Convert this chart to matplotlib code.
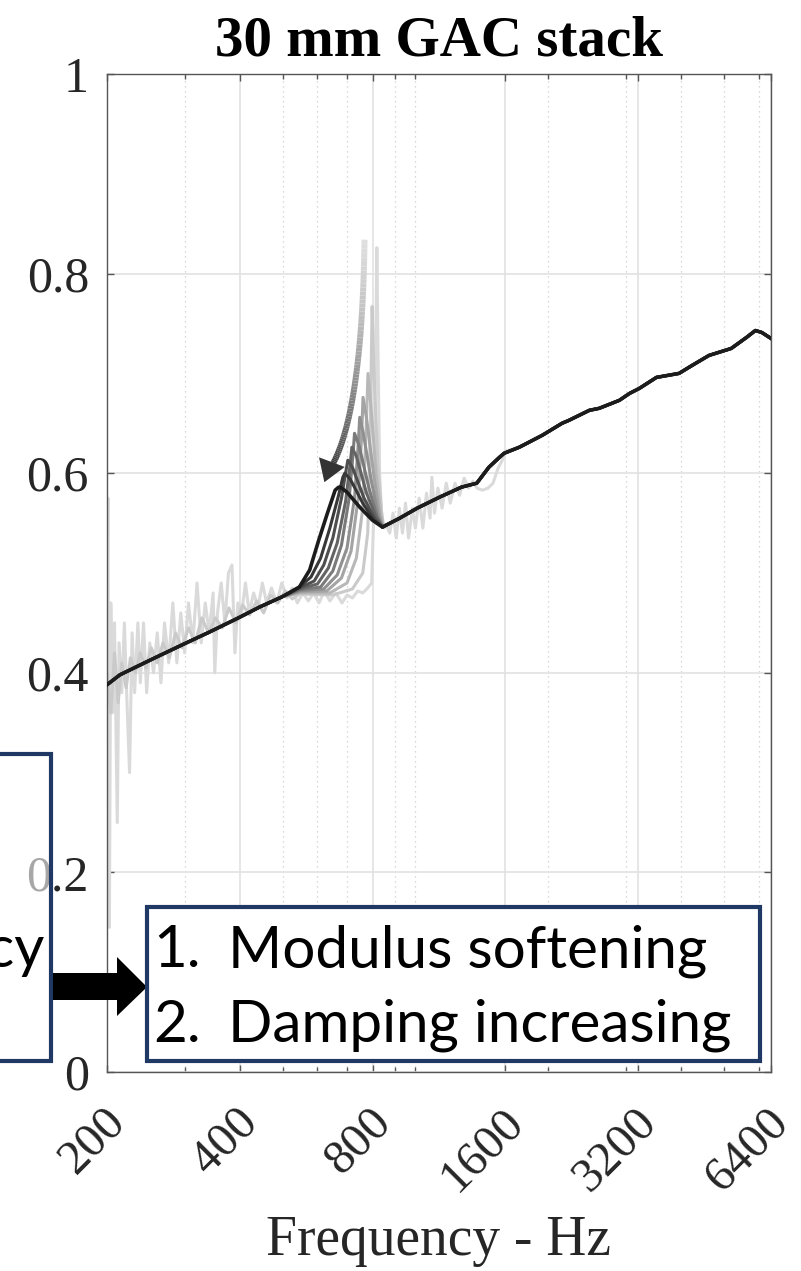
import numpy as np
import matplotlib.pyplot as plt
import matplotlib.transforms as mtransforms
from matplotlib.collections import LineCollection
from matplotlib.patches import Rectangle, Polygon
from matplotlib.ticker import FixedLocator, NullLocator, NullFormatter

plt.rcParams['font.family'] = ['Liberation Serif', 'DejaVu Serif']

W, H = 801, 1271

# darkest sweep below the resonance (Hz, value)
base_f = [200, 214, 254, 296, 342, 397, 444, 498]
base_v = [0.388, 0.398, 0.414, 0.428, 0.441, 0.455, 0.466, 0.476]

# common part above the resonance dip
post_f = [922, 1010, 1135, 1272, 1378, 1468, 1552, 1590, 1720, 1940, 2150, 2230, 2480,
          2610, 2900, 3060, 3220, 3520, 3960, 4240, 4630, 5200, 5630, 5900, 6100, 6400]
post_v = [0.555, 0.565, 0.576, 0.586, 0.590, 0.606, 0.616, 0.620, 0.626, 0.638, 0.650, 0.653, 0.663,
          0.665, 0.673, 0.680, 0.685, 0.696, 0.700, 0.708, 0.718, 0.725, 0.736, 0.743, 0.741, 0.735]

# resonance part of each sweep, light -> dark (sweep 0 is the noisy one below)
res_f = [
    None,
    [546, 650, 720, 760, 780, 790, 798, 806, 822, 838, 848],
    [546, 640, 700, 735, 760, 773, 781, 792, 815, 835, 846],
    [546, 630, 680, 715, 742, 755, 761, 775, 805, 830, 844],
    [546, 620, 665, 700, 728, 742, 748, 762, 795, 825, 842],
    [546, 610, 650, 680, 708, 722, 728, 745, 785, 820, 842],
    [546, 600, 635, 665, 695, 712, 718, 735, 775, 815, 842],
    [546, 590, 620, 650, 680, 696, 703, 720, 765, 810, 842],
    [546, 580, 610, 640, 670, 685, 692, 712, 760, 805, 842],
    [546, 576, 604, 632, 658, 670, 676, 700, 748, 799, 842],
]
res_v = [
    None,
    [0.479, 0.478, 0.484, 0.500, 0.540, 0.640, 0.767, 0.700, 0.610, 0.562, 0.546],
    [0.480, 0.480, 0.490, 0.515, 0.565, 0.640, 0.700, 0.670, 0.600, 0.560, 0.546],
    [0.481, 0.482, 0.495, 0.522, 0.575, 0.635, 0.676, 0.655, 0.598, 0.558, 0.546],
    [0.482, 0.484, 0.498, 0.525, 0.575, 0.628, 0.656, 0.640, 0.592, 0.557, 0.546],
    [0.483, 0.486, 0.502, 0.528, 0.575, 0.618, 0.640, 0.628, 0.585, 0.556, 0.546],
    [0.484, 0.489, 0.505, 0.530, 0.572, 0.610, 0.626, 0.617, 0.580, 0.556, 0.546],
    [0.485, 0.492, 0.508, 0.535, 0.575, 0.602, 0.613, 0.606, 0.575, 0.554, 0.546],
    [0.486, 0.496, 0.515, 0.545, 0.578, 0.596, 0.600, 0.594, 0.570, 0.553, 0.546],
    [0.486, 0.503, 0.533, 0.560, 0.583, 0.586, 0.586, 0.581, 0.566, 0.553, 0.546],
]

# first (lightest) sweep, noisy, 200-1600 Hz
noisy_f = [200, 201, 202.5, 204, 206, 208, 211, 213, 216, 219, 222, 225, 228, 231, 235, 238,
           242, 246, 250, 255, 260, 265, 270, 276, 282, 288, 294, 300, 306, 313, 320, 327,
           334, 341, 348, 351, 356, 363, 370, 377, 384, 390, 396, 404, 412, 420, 430, 440,
           450, 460, 472, 485, 498, 512, 526, 540, 556, 572, 588, 605, 622, 640, 660, 682,
           700, 720, 740, 760, 780, 796, 805, 812, 818, 823, 830, 840, 850, 860, 875, 890,
           905, 920, 935, 950, 965, 985, 1000, 1020, 1040, 1060, 1080, 1090, 1105, 1125, 1150,
           1175, 1200, 1230, 1260, 1290, 1320, 1350, 1380, 1420, 1460, 1500, 1540, 1570, 1600]
noisy_v = [0.44, 0.575, 0.145, 0.47, 0.36, 0.45, 0.25, 0.43, 0.38, 0.45, 0.37, 0.30, 0.44, 0.38, 0.45, 0.39,
           0.45, 0.38, 0.43, 0.40, 0.44, 0.39, 0.45, 0.41, 0.47, 0.41, 0.46, 0.42, 0.47, 0.43, 0.49, 0.43,
           0.47, 0.44, 0.48, 0.40, 0.46, 0.49, 0.45, 0.50, 0.508, 0.42, 0.47, 0.46, 0.49, 0.46, 0.48, 0.465,
           0.49, 0.47, 0.485, 0.47, 0.49, 0.475, 0.485, 0.47, 0.48, 0.472, 0.48, 0.47, 0.482, 0.472, 0.48, 0.47,
           0.478, 0.475, 0.482, 0.48, 0.485, 0.49, 0.56, 0.70, 0.826, 0.72, 0.60, 0.55, 0.545, 0.548, 0.54, 0.56,
           0.535, 0.565, 0.54, 0.57, 0.535, 0.565, 0.545, 0.575, 0.545, 0.58, 0.555, 0.596, 0.56, 0.585, 0.565,
           0.59, 0.57, 0.59, 0.578, 0.595, 0.585, 0.592, 0.585, 0.583, 0.585, 0.59, 0.605, 0.612, 0.622]

# second sweep, mildly noisy below the resonance
noisy2_f = [200, 204, 208, 212, 216, 221, 226, 232, 238, 245, 252, 260, 268, 277, 286, 296,
            306, 317, 328, 340, 352, 365, 378, 392, 406, 421, 437, 453, 470, 488, 507, 526]
noisy2_v = [0.40, 0.36, 0.42, 0.37, 0.41, 0.385, 0.415, 0.40, 0.42, 0.405, 0.425, 0.41, 0.43, 0.415, 0.44, 0.425,
            0.445, 0.43, 0.455, 0.44, 0.455, 0.445, 0.465, 0.45, 0.468, 0.458, 0.472, 0.46, 0.478, 0.47, 0.482, 0.474]

shades = ['#dadada', '#cacaca', '#b8b8b8', '#a4a4a4', '#909090', '#7a7a7a', '#646464', '#4e4e4e', '#383838', '#1c1c1c']

x_major = [200, 400, 800, 1600, 3200, 6400]
x_minor = [300, 500, 600, 700, 900, 1000, 2000, 3000, 4000, 5000, 6000]
y_ticks = [0, 0.2, 0.4, 0.6, 0.8, 1.0]
y_labels = ['0', '0.2', '0.4', '0.6', '0.8', '1']

txt_col = '#262626'
navy = '#1f3864'


def fx(px):
    return px / W


def fy(py):
    return 1 - py / H


fig = plt.figure(figsize=(W / 100, H / 100), dpi=100)
ax = fig.add_axes([fx(107), fy(1072), fx(771) - fx(107), fy(74) - fy(1072)])

for k in range(len(shades)):
    if k == 0:
        f = noisy_f + [p for p in post_f if p > 1600]
        v = noisy_v + [q for p, q in zip(post_f, post_v) if p > 1600]
    else:
        low_f = noisy2_f if k == 1 else base_f
        low_v = noisy2_v if k == 1 else base_v
        f = low_f + res_f[k] + post_f
        v = low_v + res_v[k] + post_v
    ax.plot(f, v, color=shades[k], lw=2.6 if k == len(shades) - 1 else 2.2,
            solid_joinstyle='round', zorder=2 + k * 0.1)

ax.set_xscale('log')
ax.set_xlim(200, 6400)
ax.set_ylim(0, 1)
ax.xaxis.set_major_locator(FixedLocator(x_major))
ax.xaxis.set_minor_locator(FixedLocator(x_minor))
ax.xaxis.set_minor_formatter(NullFormatter())
ax.yaxis.set_minor_locator(NullLocator())
ax.set_xticklabels([str(t) for t in x_major], rotation=45, ha='right', va='top',
                   rotation_mode='anchor', family='Liberation Serif', fontsize=35, color=txt_col)
ax.set_yticks(y_ticks)
ax.set_yticklabels(y_labels, fontsize=36, color=txt_col)
ax.tick_params(which='both', direction='in', top=True, right=True, color='#555555', width=1)
ax.tick_params(which='major', length=5)
ax.tick_params(which='minor', length=3.5)
ax.tick_params(axis='x', which='major', pad=20)
ax.tick_params(axis='y', pad=13)
for s in ax.spines.values():
    s.set_color('#555555')
    s.set_linewidth(1)

offset = mtransforms.ScaledTranslation(-0.04, 0, fig.dpi_scale_trans)
for lab in ax.get_xticklabels():
    lab.set_transform(lab.get_transform() + offset)

ax.grid(which='major', color='#e2e2e2', lw=1.2, ls='-')
ax.grid(which='minor', axis='x', color='#cccccc', lw=0.9, ls=(0, (1, 3)))
ax.set_axisbelow(True)

# gradient arrow showing peak shift
p0 = ax.transData.transform((767, 0.834))
p1 = ax.transData.transform((757, 0.653))
p2 = ax.transData.transform((636, 0.602))
t = np.linspace(0, 1, 80)[:, None]
pts = (1 - t) ** 2 * p0 + 2 * (1 - t) * t * p1 + t ** 2 * p2
segs = np.stack([pts[:-1], pts[1:]], axis=1)
cols = plt.cm.Greys(np.linspace(0.22, 0.85, len(segs)))
lc = LineCollection(segs, colors=cols, linewidths=4.3, capstyle='butt',
                    transform=mtransforms.IdentityTransform(), zorder=5)
ax.add_collection(lc)
ax.annotate('', xy=(622, 0.591), xytext=(638, 0.604),
            arrowprops=dict(arrowstyle='-|>,head_length=0.7,head_width=0.45', color='#333333',
                            lw=0, shrinkA=0, shrinkB=0, mutation_scale=22), zorder=6)

fig.text(fx(439), fy(55), '30 mm GAC stack', ha='center', va='baseline',
         fontsize=41, fontweight='bold', color='black')
fig.text(fx(438), fy(1255), 'Frequency - Hz', ha='center', va='baseline',
         fontsize=40, color=txt_col)

# annotation boxes
fig.patches.append(Rectangle((fx(-20), fy(1061)), fx(71), fy(754) - fy(1061), transform=fig.transFigure,
                             facecolor=(1, 1, 1, 0.6), edgecolor=navy, lw=3, zorder=10))
fig.text(fx(45), fy(967), 'frequency', ha='right', va='baseline', family='Lato', fontsize=42,
         color='black', zorder=11)
arrow_px = [(53, 973), (117, 973), (117, 957), (147, 987), (117, 1016), (117, 1000), (53, 1000)]
fig.patches.append(Polygon([(fx(a), fy(b)) for a, b in arrow_px], closed=True, transform=fig.transFigure,
                           facecolor='black', edgecolor='none', zorder=10))
fig.patches.append(Rectangle((fx(147), fy(1061)), fx(760) - fx(147), fy(907) - fy(1061),
                             transform=fig.transFigure, facecolor='white', edgecolor=navy, lw=3, zorder=10))
for ypx, num, label in [(967, '1.', 'Modulus softening'), (1042, '2.', 'Damping increasing')]:
    fig.text(fx(153), fy(ypx), num, ha='left', va='baseline', family='Lato', fontsize=42, zorder=11)
    fig.text(fx(228), fy(ypx), label, ha='left', va='baseline', family='Lato', fontsize=42, zorder=11)

fig.savefig('out.png', dpi=100, facecolor='white')
